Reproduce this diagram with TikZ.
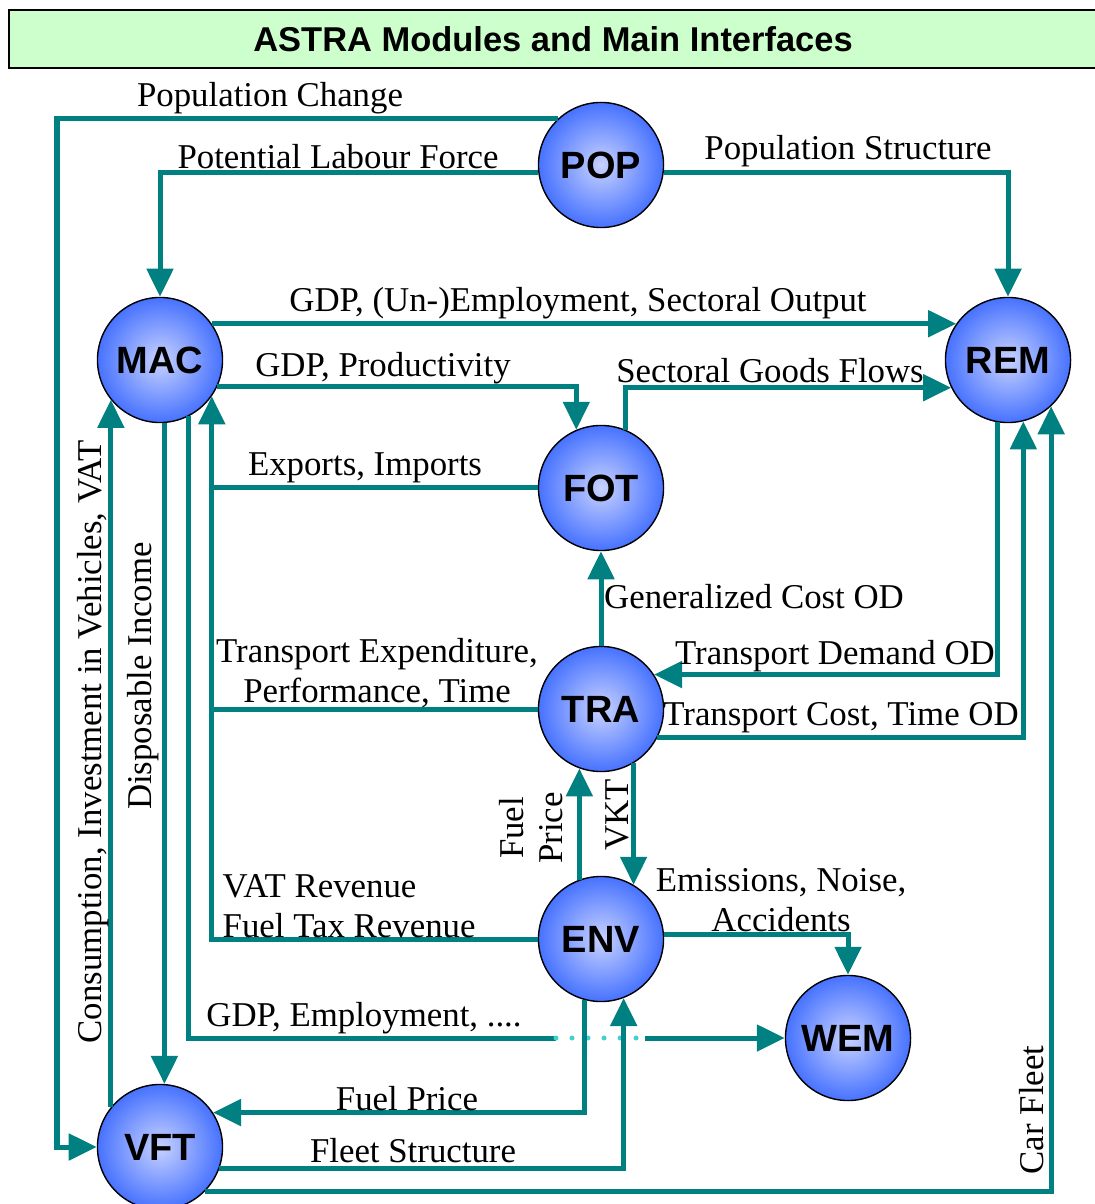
\documentclass[tikz,border=0pt]{standalone}
\usepackage{fontspec}
\setmainfont{Liberation Serif}
\setsansfont{Liberation Sans}
\usetikzlibrary{arrows.meta}
\definecolor{linkcol}{RGB}{0,128,128}
\definecolor{dotcol}{RGB}{64,208,208}
\definecolor{ballout}{RGB}{45,95,255}
\definecolor{ballin}{RGB}{200,210,255}
\definecolor{titlecol}{RGB}{204,255,204}
\pgfdeclareradialshading{modshade}{\pgfpoint{0bp}{0bp}}{color(0bp)=(ballin); color(30bp)=(ballout); color(50bp)=(ballout)}
\tikzset{>={Triangle[length=2.8mm,width=2.6mm]}}
\tikzset{module/.style = {shape=circle,draw,thin,shading=modshade,minimum size=12.5mm,
inner sep=0pt, font=\sffamily\bfseries\fontsize{10.8}{12}\selectfont},
link/.style = {draw=linkcol,line width=0.5mm},
dotline/.style = {draw=dotcol,line width=0.5mm,line cap=round,dash pattern=on 0pt off 1.6mm},
lbl/.style = {font=\fontsize{9.9}{11.3}\selectfont, inner sep=0pt}}

\begin{document}
\begin{tikzpicture}[x=0.01cm,y=-0.01cm]
                \useasboundingbox (0,0) rectangle (1095,1204);
                \node[draw, line width=0.2mm, fill=titlecol, minimum width=10.88cm, minimum height=5.8mm,
                      font=\sffamily\bfseries\fontsize{9.8}{11}\selectfont] (title) at (553,39) {ASTRA Modules and Main Interfaces};

                \node[module] (POP) at (601,165) {POP};
                \node[module] (MAC) at (160,360) {MAC};
                \node[module] (REM) at (1008,360) {REM};
                \node[module] (FOT) at (601,488) {FOT};
                \node[module] (TRA) at (601,709) {TRA};
                \node[module] (ENV) at (601,939) {ENV};
                \node[module] (WEM) at (848,1038) {WEM};
                \node[module] (VFT) at (160,1147) {VFT};

                \coordinate (pc) at (57,0);
                \coordinate (gdpa) at (556,1038);
                \coordinate (gdpb) at (645,1038);

                \draw[link,->] (POP.133) -- (POP.133 -| pc) |- (VFT.west);
                \draw[link,->] (POP.187) -| (MAC.north);
                \draw[link,->] (POP.-7) -| (REM.north);

                \draw[link,->] (MAC.35) to (REM.145);
                \draw[link,->] (MAC.-25) -| (FOT.113);
                \draw[link,->] (FOT.67) |- (REM.206);
                \draw[link] (FOT.west) to (FOT.west -| MAC.-35);
                \draw[link] (TRA.west) to (TRA.west -| MAC.-35);
                \draw[link,->] (ENV.west) -| (MAC.-35);
                \draw[link,->] (MAC.-86) to (VFT.86);
                \draw[link,->] (VFT.141) to (MAC.-141);
                \draw[link] (MAC.-63) |- (gdpa);
                \draw[dotline] (gdpa) to (gdpb);
                \draw[link,->] (gdpb) to (WEM.west);

                \draw[link,->] (TRA.north) to (FOT.south);
                \draw[link,->] (REM.-100) |- (TRA.33);
                \draw[link,->] (TRA.-27) -| (REM.-76);
                \draw[link,->] (VFT.-45) -| (REM.-47);
                \draw[link,->] (ENV.110) to (TRA.-110);
                \draw[link,->] (TRA.-59) to (ENV.59);
                \draw[link,->] (ENV.4) -| (WEM.north);
                \draw[link,->] (ENV.-105) |- (VFT.33);
                \draw[link,->] (VFT.-20) -| (ENV.-69);

                \node[lbl] (lpc) at (270,98) {Population Change};
                \node[lbl] (llf) at (338,157) {Potential Labour Force};
                \node[lbl] (lps) at (848,151) {Population Structure};
                \node[lbl] (lgu) at (578,303) {GDP, (Un-)Employment, Sectoral Output};
                \node[lbl] (lgp) at (383,368) {GDP, Productivity};
                \node[lbl] (lsg) at (770,371) {Sectoral Goods Flows};
                \node[lbl] (lei) at (365,468) {Exports, Imports};
                \node[lbl] (lgc) at (754,597) {Generalized Cost OD};
                \node[lbl,align=center] (lte) at (377,673) {Transport Expenditure,\\Performance, Time};
                \node[lbl] (ltd) at (835,656) {Transport Demand OD};
                \node[lbl] (ltc) at (841,718) {Transport Cost, Time OD};
                \node[lbl,align=center,rotate=90] (lfp) at (531,828) {Fuel\\Price};
                \node[lbl,rotate=90] (lvk) at (617,815) {VKT};
                \node[lbl,align=left,anchor=west] (lvr) at (222,906) {VAT Revenue\\Fuel Tax Revenue};
                \node[lbl,align=center] (len) at (781,900) {Emissions, Noise,\\Accidents};
                \node[lbl] (lge) at (364,1018) {GDP, Employment, ....};
                \node[lbl] (lfu) at (407,1099) {Fuel Price};
                \node[lbl] (lfs) at (413,1151) {Fleet Structure};
                \node[lbl,rotate=90] (lci) at (93,742) {Consumption, Investment in Vehicles, VAT};
                \node[lbl,rotate=90] (ldi) at (143,676) {Disposable Income};
                \node[lbl,rotate=90] (lcf) at (1032,1110) {Car Fleet};
            \end{tikzpicture}
\end{document}
